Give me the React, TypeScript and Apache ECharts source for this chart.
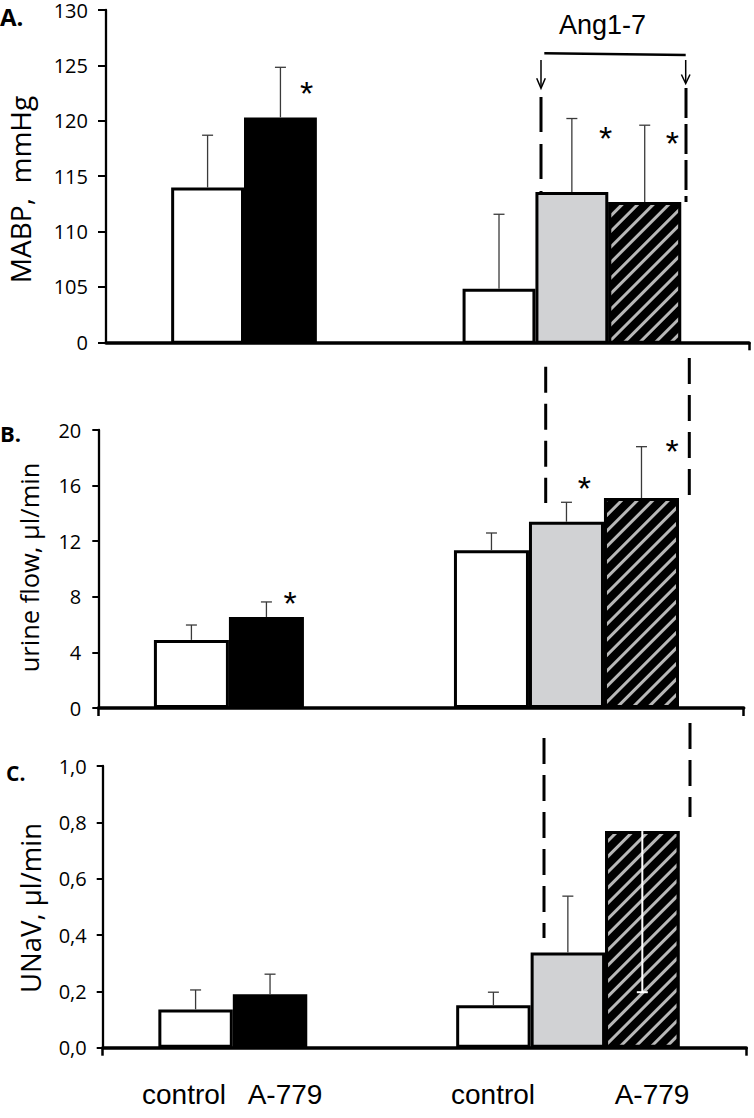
import React, { useEffect, useRef } from 'react';
import * as echarts from 'echarts';

// ---------- data ----------
// slots along each panel's x axis (blank slots are spacers between the groups)
const slots = ['', 'control', 'A-779', '', '', 'control', 'Ang1-7', 'Ang1-7 + A-779', ''];
const treatment = ['', 'control', 'A779', '', '', 'control', 'Ang', 'AngA779', ''];

// A. MABP, mmHg (axis is broken: "0" sits where 100 would be)
const mabpMean = [null, 113.9, 120.2, null, null, 104.8, 113.5, 112.6, null];
const mabpSem = [null, 4.7, 4.5, null, null, 6.7, 6.6, 6.9, null];
const mabpTicks = ['0', '105', '110', '115', '120', '125', '130'];

// B. urine flow, µl/min
const urineMean = [null, 4.9, 6.55, null, null, 11.35, 13.4, 15.1, null];
const urineSem = [null, 1.07, 1.08, null, null, 1.24, 1.4, 3.7, null];
const urineTicks = ['0', '4', '8', '12', '16', '20'];

// C. UNaV, µl/min (negative SEM = drawn downward in white)
const unavMean = [null, 0.136, 0.19, null, null, 0.151, 0.338, 0.769, null];
const unavSem = [null, 0.069, 0.071, null, null, 0.046, 0.2, -0.572, null];
const unavTicks = ['0,0', '0,2', '0,4', '0,6', '0,8', '1,0'];

const xLabels = ['control', 'A-779', 'control', 'A-779'];
const bracketLabel = 'Ang1-7';

// ---------- styles ----------
const FILLS: Record<string, any> = {
  control: { color: '#ffffff' },
  A779: { color: '#000000' },
  Ang: { color: '#d1d2d4' },
  AngA779: {
    color: '#000000',
    decal: {
      symbol: 'rect',
      symbolSize: 1,
      color: '#b8b8b8',
      dashArrayX: [1, 0],
      dashArrayY: [3, 7.5],
      rotation: -Math.PI / 4,
    },
  },
};

const TICK_FONT = 'Open Sans';

type Panel = {
  frame: { left: number; right: number; top: number; height: number };
  bars: { left: number; width: number };
  min: number;
  max: number;
  interval: number;
  ticks: string[];
  mean: (number | null)[];
  sem: (number | null)[];
  tickLen: number;
  labelMargin: number;
  endTicks: number[];
};

const panels: Panel[] = [
  {
    frame: { left: 106, right: 5, top: 8.3, height: 334 },
    bars: { left: 98.3, width: 658.8 },
    min: 100, max: 130, interval: 5, ticks: mabpTicks,
    mean: mabpMean, sem: mabpSem, tickLen: 8, labelMargin: 18, endTicks: [1],
  },
  {
    frame: { left: 98.3, right: 10.3, top: 430, height: 278 },
    bars: { left: 78.9, width: 684.9 },
    min: 0, max: 20, interval: 4, ticks: urineTicks,
    mean: urineMean, sem: urineSem, tickLen: 6, labelMargin: 17, endTicks: [0, 1],
  },
  {
    frame: { left: 102.7, right: 7.7, top: 766, height: 281.7 },
    bars: { left: 83.9, width: 684.9 },
    min: 0, max: 1, interval: 0.2, ticks: unavTicks,
    mean: unavMean, sem: unavSem, tickLen: 6, labelMargin: 16, endTicks: [0, 1],
  },
];

function buildOption() {
  const grid: any[] = [];
  const xAxis: any[] = [];
  const yAxis: any[] = [];
  const series: any[] = [];

  panels.forEach((p) => {
    const fi = grid.length;
    grid.push({ left: p.frame.left, right: p.frame.right, top: p.frame.top, height: p.frame.height });
    const bi = grid.length;
    grid.push({ left: p.bars.left, width: p.bars.width, top: p.frame.top, height: p.frame.height });

    // visible frame axes
    xAxis.push({
      gridIndex: fi, type: 'value', min: 0, max: 1, interval: 1,
      axisLine: { show: true, onZero: false, lineStyle: { color: '#000', width: 3.5 } },
      axisTick: { show: true, length: 8, customValues: p.endTicks, lineStyle: { color: '#000', width: 2.5 } },
      axisLabel: { show: false },
      splitLine: { show: false },
    });
    yAxis.push({
      gridIndex: fi, type: 'value', min: p.min, max: p.max, interval: p.interval,
      axisLine: { show: true, lineStyle: { color: '#000', width: 2.3 } },
      axisTick: { show: true, length: p.tickLen, lineStyle: { color: '#000', width: 2 } },
      axisLabel: {
        margin: p.labelMargin, fontFamily: TICK_FONT, fontSize: 20, lineHeight: 16, color: '#000',
        formatter: (v: number) => p.ticks[Math.round((v - p.min) / p.interval)] ?? '',
      },
      splitLine: { show: false },
    });

    // hidden axes carrying the bars
    xAxis.push({ gridIndex: bi, type: 'category', data: slots, show: false, boundaryGap: true });
    yAxis.push({ gridIndex: bi, type: 'value', min: p.min, max: p.max, show: false });

    series.push({
      type: 'bar',
      xAxisIndex: bi, yAxisIndex: bi,
      barWidth: '100%',
      clip: true,
      silent: true,
      z: 2,
      data: p.mean.map((m, i) =>
        m == null
          ? '-'
          : { value: m, itemStyle: { ...FILLS[treatment[i]], borderColor: '#000', borderWidth: 3 } }
      ),
    });

    series.push({
      type: 'custom',
      xAxisIndex: bi, yAxisIndex: bi,
      silent: true,
      z: 5,
      data: p.mean
        .map((m, i) => (m == null ? null : [i, m, p.sem[i]]))
        .filter((d) => d != null),
      renderItem: (_params: any, api: any) => {
        const i = api.value(0);
        const m = api.value(1);
        const e = api.value(2);
        const p0 = api.coord([i, m]);
        const p1 = api.coord([i, m + e]);
        const down = e < 0;
        const stroke = down ? '#ffffff' : '#3a3a3a';
        const lw = down ? 2 : 1.3;
        return {
          type: 'group',
          children: [
            { type: 'line', shape: { x1: p0[0], y1: p0[1], x2: p1[0], y2: p1[1] }, style: { stroke, lineWidth: lw } },
            { type: 'line', shape: { x1: p1[0] - 5.5, y1: p1[1], x2: p1[0] + 5.5, y2: p1[1] }, style: { stroke, lineWidth: lw } },
          ],
        };
      },
    });
  });

  const dashed = (x: number, y1: number, y2: number, dash: number[]) => ({
    type: 'line',
    shape: { x1: x, y1, x2: x, y2 },
    style: { stroke: '#000', lineWidth: 3, lineDash: dash },
    silent: true,
  });
  const text = (t: string, x: number, y: number, font: any, extra: any = {}) => ({
    type: 'text',
    x, y,
    silent: true,
    ...extra,
    style: {
      text: t,
      fill: '#000',
      align: 'center',
      verticalAlign: 'middle',
      ...font,
    },
  });
  const star = (x: number, y: number) =>
    text('*', x, y + 8, { fontFamily: 'Liberation Sans', fontSize: 34, lineHeight: 20 });

  const graphic: any[] = [
    // panel letters
    text('A.', 0, 16, { fontFamily: 'Open Sans', fontWeight: 'bold', fontSize: 24, lineHeight: 20, align: 'left' }),
    text('B.', 0, 433, { fontFamily: 'Open Sans', fontWeight: 'bold', fontSize: 22, lineHeight: 20, align: 'left' }),
    text('C.', 6, 773, { fontFamily: 'Open Sans', fontWeight: 'bold', fontSize: 21, lineHeight: 20, align: 'left' }),
    // axis titles
    text('MABP,  mmHg', 20, 189.5, { fontFamily: 'Open Sans', fontSize: 28, lineHeight: 22 },
      { rotation: Math.PI / 2 }),
    text('urine flow, µl/min', 29, 567.5, { fontFamily: 'Open Sans', fontSize: 25.5, lineHeight: 22 },
      { rotation: Math.PI / 2 }),
    text('UNaV, µl/min', 30.5, 908, { fontFamily: 'Open Sans', fontSize: 27.5, lineHeight: 22 },
      { rotation: Math.PI / 2 }),
    // bracket
    text(bracketLabel, 602.5, 25, { fontFamily: 'Liberation Sans', fontSize: 27 }),
    { type: 'line', shape: { x1: 544.3, y1: 53.3, x2: 685.7, y2: 55 }, style: { stroke: '#000', lineWidth: 2.5 }, silent: true },
    { type: 'line', shape: { x1: 541, y1: 60, x2: 541, y2: 88 }, style: { stroke: '#000', lineWidth: 1.5 }, silent: true },
    { type: 'polyline', shape: { points: [[536.7, 78.3], [541, 88.3], [545.3, 78.3]] }, style: { stroke: '#000', lineWidth: 1.5, fill: null }, silent: true },
    { type: 'line', shape: { x1: 685.7, y1: 60, x2: 685.7, y2: 83 }, style: { stroke: '#000', lineWidth: 1.5 }, silent: true },
    { type: 'polyline', shape: { points: [[681.4, 74.5], [685.7, 83.5], [690, 74.5]] }, style: { stroke: '#000', lineWidth: 1.5, fill: null }, silent: true },
    // dashed guides
    dashed(541, 97, 192, [35, 12]),
    dashed(686, 88, 202, [30, 6]),
    dashed(545.7, 366.7, 503, [26, 11]),
    dashed(689.3, 358, 495, [26, 11]),
    dashed(544, 738, 938, [26, 11]),
    dashed(690, 723, 817, [26, 11]),
    // significance stars
    star(306.7, 85),
    star(605.7, 130),
    star(672.3, 135),
    star(290, 595),
    star(584.3, 480),
    star(672, 442.7),
    // x labels
    ...[184, 285, 493, 652].map((x, i) =>
      text(xLabels[i], x, 1094, { fontFamily: 'Liberation Sans', fontSize: 28 })
    ),
  ];

  return {
    animation: false,
    backgroundColor: '#ffffff',
    grid,
    xAxis,
    yAxis,
    series,
    graphic,
  };
}

export default function App() {
  const ref = useRef<HTMLDivElement>(null);
  useEffect(() => {
    if (!ref.current) return;
    const chart = echarts.init(ref.current, null, { renderer: 'svg' });
    chart.setOption(buildOption() as any);
    return () => chart.dispose();
  }, []);
  return (
    <div
      ref={ref}
      style={{ position: 'absolute', left: 0, top: 0, width: 754, height: 1118, background: '#fff' }}
    />
  );
}
